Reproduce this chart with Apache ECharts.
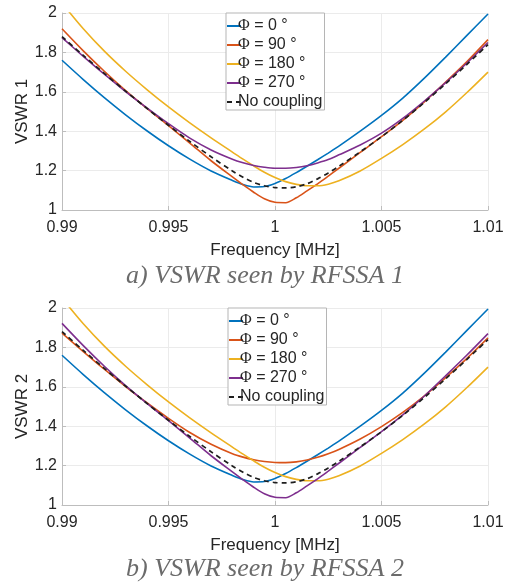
<!DOCTYPE html>
<html>
<head>
<meta charset="utf-8">
<script src="https://cdn.jsdelivr.net/npm/echarts@6/dist/echarts.min.js"></script>
<style>
  html, body { margin: 0; padding: 0; background: #fff; }
  #chart { width: 512px; height: 583px; }
</style>
</head>
<body>
<div id="chart"></div>
<script>
// frequency samples [MHz], denser around the resonance
const freq = [0.990, 0.991, 0.992, 0.993, 0.994, 0.995, 0.996, 0.997, 0.998,
              0.9985, 0.999, 0.9995, 1.000, 1.0005, 1.001, 1.0015, 1.002, 1.0025, 1.003,
              1.004, 1.005, 1.006, 1.007, 1.008, 1.009, 1.010]
// curves that look the same in both panels
const phi0 = [1.760, 1.662, 1.569, 1.482, 1.401, 1.326, 1.258, 1.198, 1.150,
              1.129, 1.117, 1.119, 1.135, 1.160, 1.190, 1.222, 1.255, 1.289, 1.324,
              1.400, 1.480, 1.568, 1.668, 1.775, 1.885, 1.995]
const phi180 = [2.050, 1.920, 1.805, 1.703, 1.610, 1.523, 1.442, 1.366, 1.294,
                1.258, 1.224, 1.192, 1.165, 1.144, 1.130, 1.123, 1.123, 1.131, 1.148,
                1.198, 1.262, 1.332, 1.410, 1.497, 1.595, 1.700]
const noCoupling = [1.880, 1.785, 1.692, 1.602, 1.515, 1.430, 1.348, 1.270, 1.198,
                    1.166, 1.140, 1.123, 1.114, 1.112, 1.118, 1.133, 1.158, 1.188, 1.222,
                    1.295, 1.372, 1.455, 1.545, 1.640, 1.738, 1.840]
// panel a) VSWR 1
const vswr1Phi90 = [1.920, 1.808, 1.703, 1.605, 1.515, 1.428, 1.340, 1.250, 1.168,
                    1.128, 1.090, 1.057, 1.039, 1.037, 1.062, 1.097, 1.133, 1.172, 1.212,
                    1.292, 1.372, 1.455, 1.548, 1.648, 1.752, 1.865]
const vswr1Phi270 = [1.875, 1.780, 1.688, 1.600, 1.517, 1.438, 1.365, 1.305, 1.258,
                     1.240, 1.226, 1.217, 1.212, 1.212, 1.216, 1.225, 1.239, 1.256, 1.280,
                     1.330, 1.390, 1.465, 1.552, 1.645, 1.745, 1.850]
// panel b) VSWR 2
const vswr2Phi90 = [1.872, 1.779, 1.688, 1.600, 1.518, 1.440, 1.368, 1.308, 1.260,
                    1.243, 1.230, 1.221, 1.216, 1.215, 1.219, 1.228, 1.242, 1.260, 1.282,
                    1.335, 1.398, 1.470, 1.553, 1.645, 1.743, 1.848]
const vswr2Phi270 = [1.922, 1.809, 1.703, 1.605, 1.515, 1.428, 1.340, 1.250, 1.168,
                     1.128, 1.090, 1.057, 1.039, 1.037, 1.062, 1.097, 1.133, 1.172, 1.212,
                     1.292, 1.372, 1.457, 1.552, 1.655, 1.760, 1.870]

const names = ['Φ = 0 °', 'Φ = 90 °', 'Φ = 180 °', 'Φ = 270 °', 'No coupling']
const colors = ['#0072BD', '#D95319', '#EDB120', '#7E2F8E', '#1e1e1e']
const captions = ['a) VSWR seen by RFSSA 1', 'b) VSWR seen by RFSSA 2']

const textColor = '#262626'
const sans = '"Liberation Sans", Arial, sans-serif'
const serif = '"Liberation Serif", "Times New Roman", serif'

const chart = echarts.init(document.getElementById('chart'))

const mkSeries = (idx, ys, gi) => ({
    name: names[idx],
    type: 'line',
    xAxisIndex: gi,
    yAxisIndex: gi,
    data: freq.map((f, i) => [f, ys[i]]),
    symbol: 'none',
    showSymbol: false,
    smooth: 0.3,
    clip: true,
    lineStyle: {
        color: colors[idx],
        width: idx === 4 ? 1.7 : 1.6,
        type: idx === 4 ? [5, 4] : 'solid'
    },
    itemStyle: { color: colors[idx] }
})

const mkX = (gi) => ({
    type: 'value',
    gridIndex: gi,
    min: 0.99,
    max: 1.01,
    interval: 0.005,
    name: 'Frequency [MHz]',
    nameLocation: 'middle',
    nameGap: 32,
    nameMoveOverlap: false,
    nameTextStyle: { fontSize: 17, color: textColor, fontFamily: sans },
    axisLine: { show: true, lineStyle: { color: '#bdbdbd' } },
    axisTick: { show: true, inside: true, length: 4, lineStyle: { color: '#bdbdbd' } },
    axisLabel: {
        fontSize: 16, color: textColor, fontFamily: sans, margin: 10,
        formatter: (v) => String(+v.toFixed(3))
    },
    splitLine: { show: true, lineStyle: { color: '#ebebeb' } }
})

const mkY = (gi, title) => ({
    type: 'value',
    gridIndex: gi,
    min: 1,
    max: 2,
    interval: 0.2,
    name: title,
    nameLocation: 'middle',
    nameGap: 31,
    nameMoveOverlap: false,
    nameTextStyle: { fontSize: 17, color: textColor, fontFamily: sans },
    axisLine: { show: true, lineStyle: { color: '#bdbdbd' } },
    axisTick: { show: true, inside: true, length: 4, lineStyle: { color: '#bdbdbd' } },
    axisLabel: {
        fontSize: 16, color: textColor, fontFamily: sans, margin: 5,
        formatter: (v) => String(+v.toFixed(1))
    },
    splitLine: { show: true, lineStyle: { color: '#ebebeb' } }
})

const mkLegend = (left, top) => ({
    orient: 'vertical',
    left: left,
    top: top,
    data: names,
    backgroundColor: '#fff',
    borderColor: '#b5b5b5',
    borderWidth: 1,
    borderRadius: 0,
    padding: [5, 2, 0, 0],
    itemGap: 3,
    itemWidth: 14,
    itemHeight: 8,
    selectedMode: false,
    itemStyle: { opacity: 0 },
    formatter: (name) => name.charAt(0) === 'Φ' ? '{p|Φ}' + name.slice(1) : name,
    textStyle: {
        fontSize: 16,
        lineHeight: 16,
        color: textColor,
        fontFamily: sans,
        padding: [0, 0, 0, -8],
        rich: { p: { fontFamily: serif, fontSize: 16, color: textColor } }
    }
})

const mkCaption = (text, y) => ({
    type: 'text', x: 265, y: y,
    style: {
        text: text, fontFamily: serif, fontStyle: 'italic',
        fontSize: 26, fill: '#6b6b6b', align: 'center', verticalAlign: 'middle'
    }
})

const option = {
    animation: false,
    backgroundColor: '#fff',
    grid: [
        { left: 62, top: 13, width: 426, height: 197 },
        { left: 62, top: 308, width: 426, height: 197 }
    ],
    xAxis: [mkX(0), mkX(1)],
    yAxis: [mkY(0, 'VSWR 1'), mkY(1, 'VSWR 2')],
    legend: [mkLegend(226, 13), mkLegend(228, 308)],
    series: [
        mkSeries(0, phi0, 0),
        mkSeries(1, vswr1Phi90, 0),
        mkSeries(2, phi180, 0),
        mkSeries(3, vswr1Phi270, 0),
        mkSeries(4, noCoupling, 0),
        mkSeries(0, phi0, 1),
        mkSeries(1, vswr2Phi90, 1),
        mkSeries(2, phi180, 1),
        mkSeries(3, vswr2Phi270, 1),
        mkSeries(4, noCoupling, 1)
    ],
    graphic: [mkCaption(captions[0], 276), mkCaption(captions[1], 569)]
}
chart.setOption(option)
</script>
</body>
</html>
